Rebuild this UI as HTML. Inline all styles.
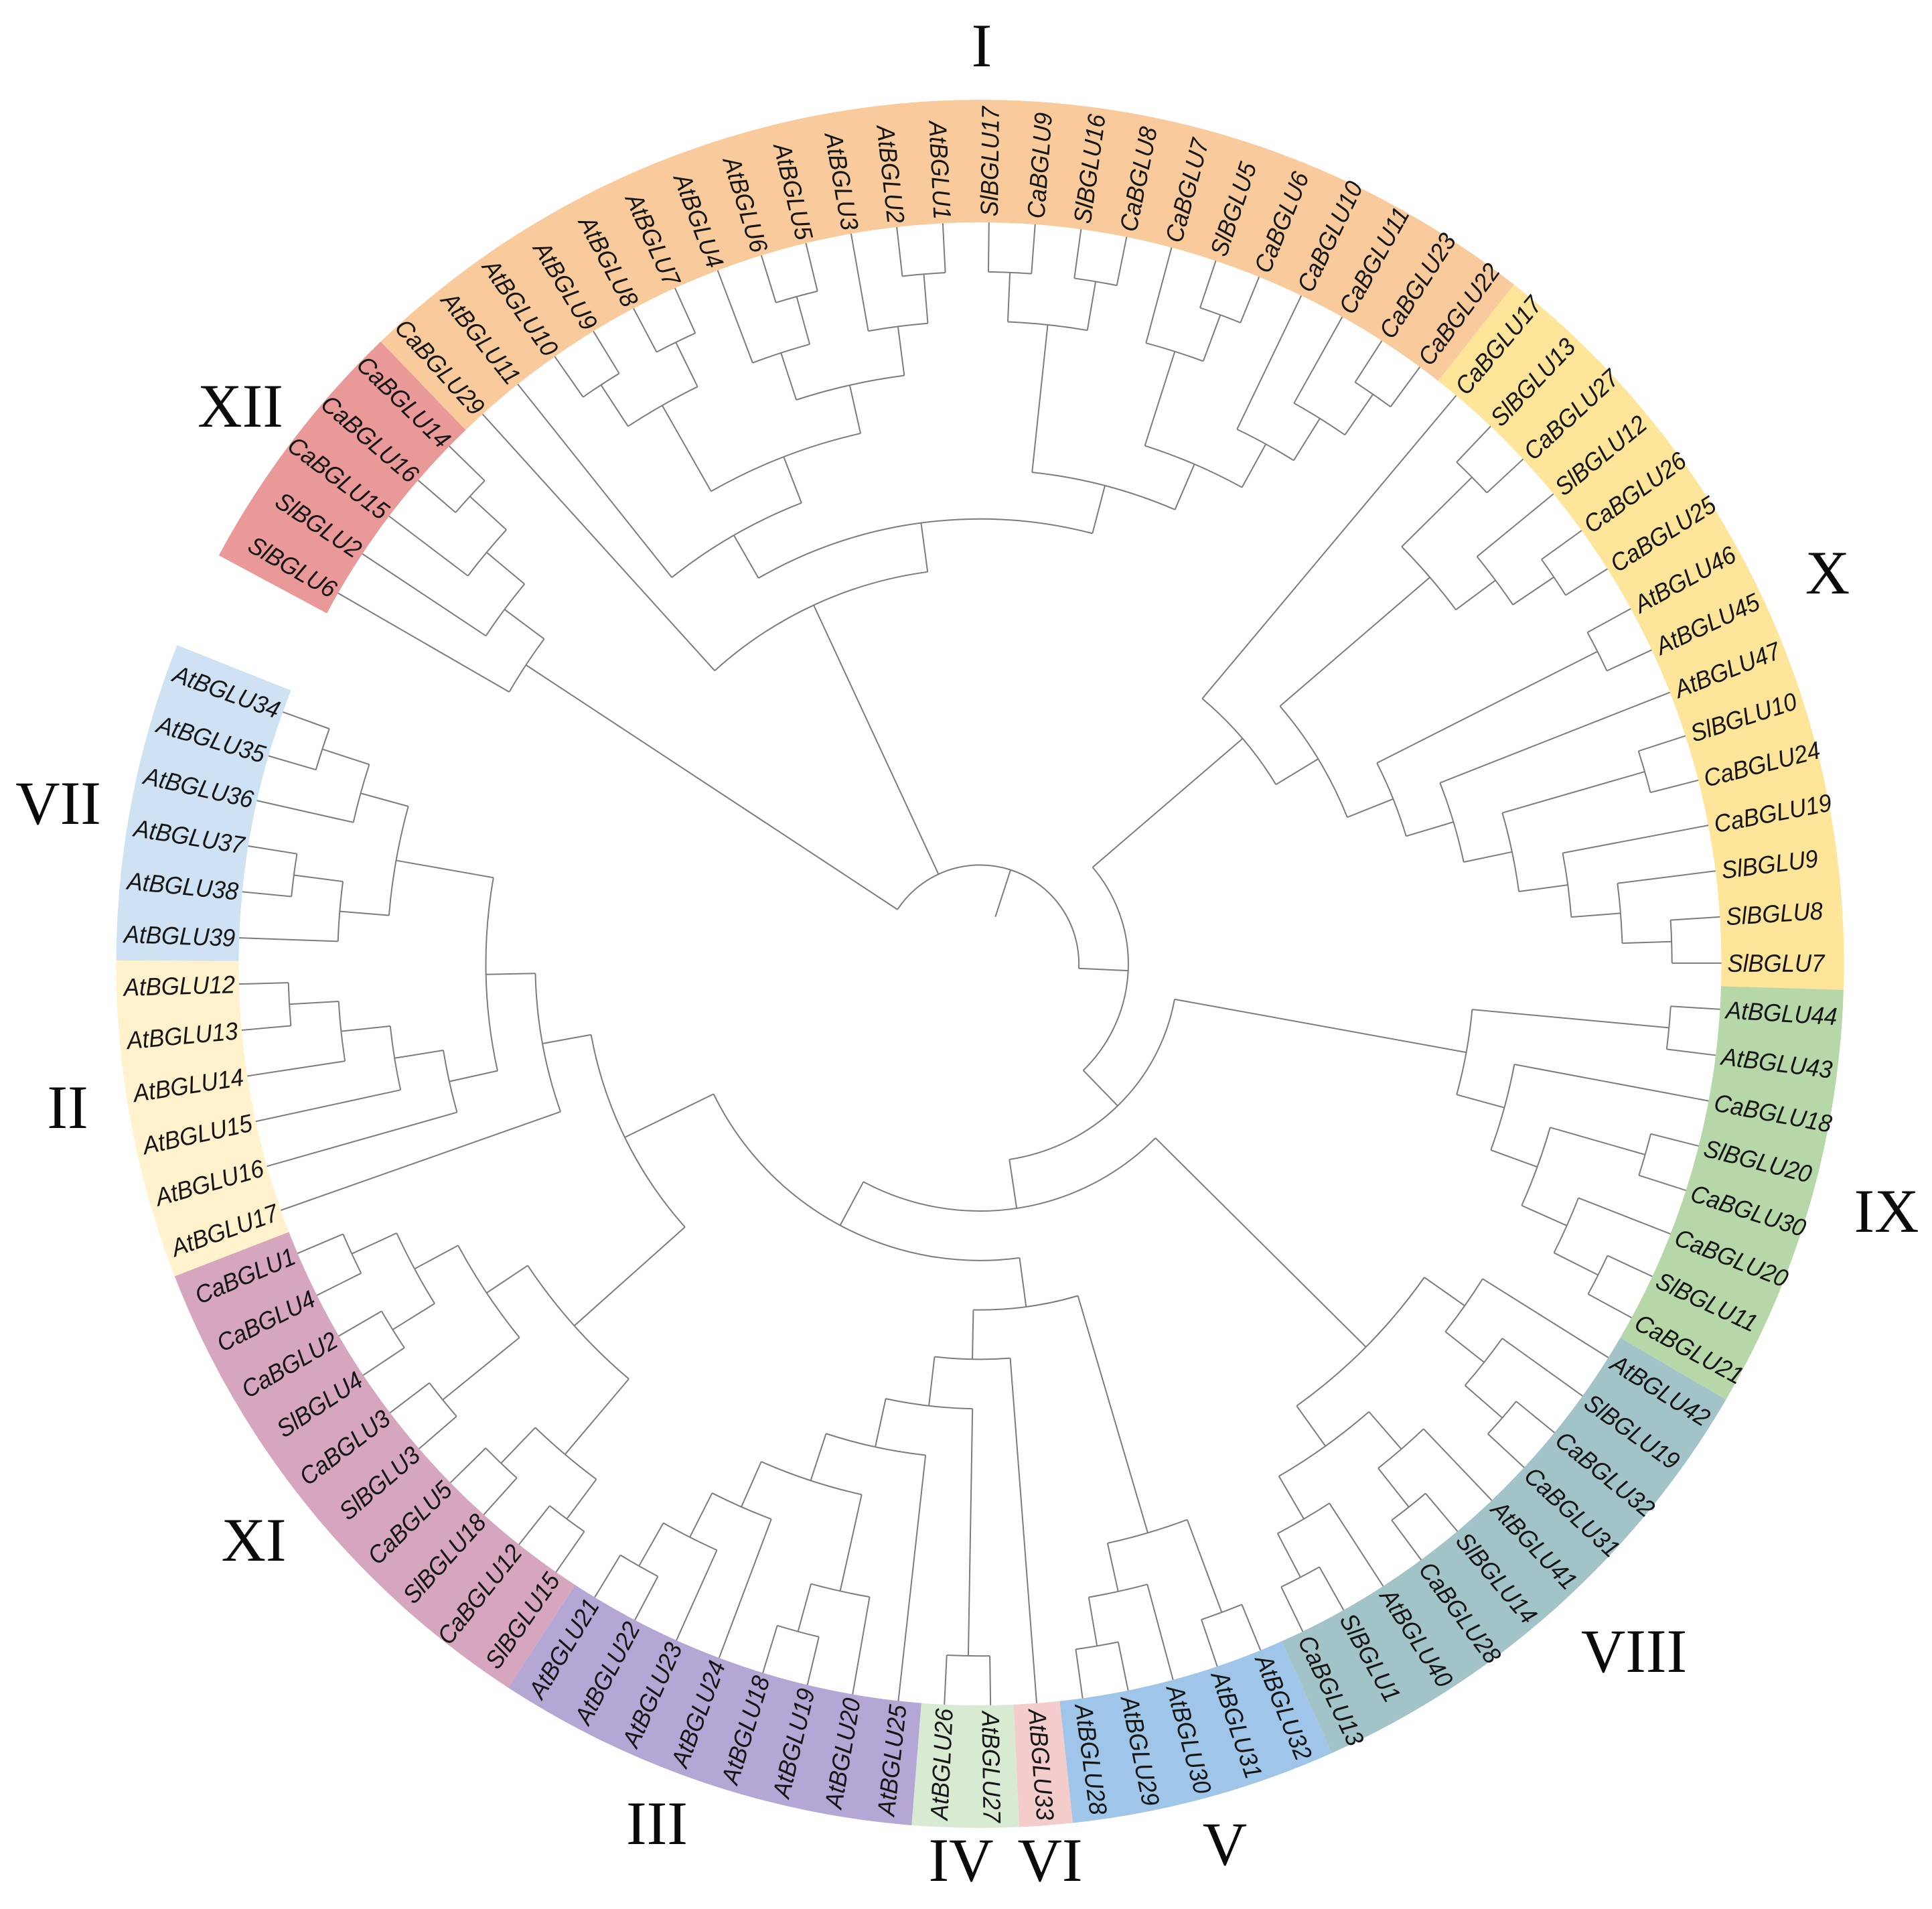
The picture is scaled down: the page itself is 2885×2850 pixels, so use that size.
<!DOCTYPE html>
<html lang="en">
<head>
<meta charset="utf-8">
<title>Circular BGLU cladogram</title>
<style>
html,body{margin:0;padding:0;background:#fff;}
svg{display:block;}
.leaf-label{font-family:"Liberation Sans",sans-serif;font-style:italic;font-size:37px;fill:#151515;}
.clade-title{font-family:"Liberation Serif",serif;font-size:92px;fill:#0a0a0a;text-anchor:middle;}
.branch{fill:none;stroke:#7c7c7c;stroke-width:2;}
</style>
</head>
<body>
<svg id="chart" xmlns="http://www.w3.org/2000/svg" width="2885" height="2850" viewBox="0 0 2885 2850">
  <rect width="2885" height="2850" fill="#ffffff"/>
  <g id="ring"></g>
  <g id="tree"></g>
  <g id="labels"></g>
  <g>
    <text class="clade-title" x="1466" y="99">I</text>
    <text class="clade-title" x="101" y="1684">II</text>
    <text class="clade-title" x="981" y="2753">III</text>
    <text class="clade-title" x="1435" y="2808">IV</text>
    <text class="clade-title" x="1829" y="2784">V</text>
    <text class="clade-title" x="1568" y="2808">VI</text>
    <text class="clade-title" x="87" y="1230">VII</text>
    <text class="clade-title" x="2440" y="2496">VIII</text>
    <text class="clade-title" x="2817" y="1839">IX</text>
    <text class="clade-title" x="2729" y="886">X</text>
    <text class="clade-title" x="379" y="2330">XI</text>
    <text class="clade-title" x="359" y="637">XII</text>
  </g>
</svg>
<script>
// Leaves in clockwise order, starting from the first slot of clade XII.
const leafNames = [
  "SlBGLU6","SlBGLU2","CaBGLU15","CaBGLU16","CaBGLU14",
  "CaBGLU29","AtBGLU11","AtBGLU10","AtBGLU9","AtBGLU8","AtBGLU7","AtBGLU4","AtBGLU6","AtBGLU5","AtBGLU3","AtBGLU2","AtBGLU1","SlBGLU17","CaBGLU9","SlBGLU16","CaBGLU8","CaBGLU7","SlBGLU5","CaBGLU6","CaBGLU10","CaBGLU11","CaBGLU23","CaBGLU22",
  "CaBGLU17","SlBGLU13","CaBGLU27","SlBGLU12","CaBGLU26","CaBGLU25","AtBGLU46","AtBGLU45","AtBGLU47","SlBGLU10","CaBGLU24","CaBGLU19","SlBGLU9","SlBGLU8","SlBGLU7",
  "AtBGLU44","AtBGLU43","CaBGLU18","SlBGLU20","CaBGLU30","CaBGLU20","SlBGLU11","CaBGLU21",
  "AtBGLU42","SlBGLU19","CaBGLU32","CaBGLU31","AtBGLU41","SlBGLU14","CaBGLU28","AtBGLU40","SlBGLU1","CaBGLU13",
  "AtBGLU32","AtBGLU31","AtBGLU30","AtBGLU29","AtBGLU28",
  "AtBGLU33",
  "AtBGLU27","AtBGLU26",
  "AtBGLU25","AtBGLU20","AtBGLU19","AtBGLU18","AtBGLU24","AtBGLU23","AtBGLU22","AtBGLU21",
  "SlBGLU15","CaBGLU12","SlBGLU18","CaBGLU5","SlBGLU3","CaBGLU3","SlBGLU4","CaBGLU2","CaBGLU4","CaBGLU1",
  "AtBGLU17","AtBGLU16","AtBGLU15","AtBGLU14","AtBGLU13","AtBGLU12",
  "AtBGLU39","AtBGLU38","AtBGLU37","AtBGLU36","AtBGLU35","AtBGLU34"
];
const cladeNames = ["XII","I","X","IX","VIII","V","VI","IV","III","XI","II","VII"];
const cladeSizes = [5,23,15,8,10,5,1,2,8,10,6,6];
const cladePalette = ["#ea9999","#f9cb9c","#ffe599","#b6d7a8","#a2c4c9","#9fc5e8","#f4cccc","#d9ead3","#b4a7d6","#d5a6bd","#fff2cc","#cfe2f3"];

// Internal nodes: children are leaf names, or "#k" for internal node k.
const nodeChildren = [
  ["CaBGLU16","CaBGLU14"],["CaBGLU15","#0"],["SlBGLU2","#1"],["SlBGLU6","#2"],
  ["AtBGLU10","AtBGLU9"],["AtBGLU8","AtBGLU7"],["#4","#5"],["AtBGLU6","AtBGLU5"],["AtBGLU4","#7"],["AtBGLU2","AtBGLU1"],["AtBGLU3","#9"],["#8","#10"],["#6","#11"],["AtBGLU11","#12"],
  ["SlBGLU17","CaBGLU9"],["SlBGLU16","CaBGLU8"],["#14","#15"],["SlBGLU5","CaBGLU6"],["CaBGLU7","#17"],["CaBGLU23","CaBGLU22"],["CaBGLU11","#19"],["CaBGLU10","#20"],["#18","#21"],["#16","#22"],["#13","#23"],["CaBGLU29","#24"],
  ["SlBGLU13","CaBGLU27"],["CaBGLU26","CaBGLU25"],["SlBGLU12","#27"],["#26","#28"],["AtBGLU46","AtBGLU45"],["SlBGLU10","CaBGLU24"],["SlBGLU8","SlBGLU7"],["SlBGLU9","#32"],["CaBGLU19","#33"],["#31","#34"],["AtBGLU47","#35"],["#30","#36"],["#29","#37"],["CaBGLU17","#38"],
  ["AtBGLU44","AtBGLU43"],["SlBGLU20","CaBGLU30"],["SlBGLU11","CaBGLU21"],["CaBGLU20","#42"],["#41","#43"],["CaBGLU18","#44"],["#40","#45"],
  ["CaBGLU32","CaBGLU31"],["SlBGLU19","#47"],["AtBGLU42","#48"],["SlBGLU14","CaBGLU28"],["AtBGLU41","#50"],["SlBGLU1","CaBGLU13"],["AtBGLU40","#52"],["#51","#53"],["#49","#54"],
  ["AtBGLU32","AtBGLU31"],["AtBGLU29","AtBGLU28"],["AtBGLU30","#57"],["#56","#58"],
  ["AtBGLU27","AtBGLU26"],["AtBGLU22","AtBGLU21"],["AtBGLU23","#61"],["AtBGLU24","#62"],["AtBGLU19","AtBGLU18"],["AtBGLU20","#64"],["#63","#65"],["AtBGLU25","#66"],["#60","#67"],["AtBGLU33","#68"],["#59","#69"],
  ["AtBGLU12","AtBGLU13"],["AtBGLU14","#71"],["AtBGLU15","#72"],["AtBGLU16","#73"],["AtBGLU34","AtBGLU35"],["AtBGLU36","#75"],["AtBGLU37","AtBGLU38"],["AtBGLU39","#77"],["#76","#78"],["#74","#79"],["AtBGLU17","#80"],
  ["CaBGLU1","CaBGLU4"],["CaBGLU2","SlBGLU4"],["#82","#83"],["CaBGLU3","SlBGLU3"],["#84","#85"],["CaBGLU5","SlBGLU18"],["CaBGLU12","SlBGLU15"],["#87","#88"],["#86","#89"],
  ["#81","#90"],["#70","#91"],["#55","#92"],["#46","#93"],["#39","#94"],["#3","#25","#95"]
];
// Height of each internal node above the tips (cladogram levels).
const nodeLevels = [
  1,2,3,4,
  1,1,2,1,2,1,2,3,4,5,
  1,1,2,1,2,1,2,3,4,5,6,7,
  1,1,2,3,1,1,1,2,3,4,5,6,7,8,
  1,1,1,2,3,4,5,
  1,2,3,1,2,1,2,3,4,
  1,1,2,3,
  1,1,2,3,1,2,4,5,6,7,8,
  1,2,3,4,1,2,1,2,3,5,6,
  1,1,2,1,3,1,1,2,4,
  7,9,10,11,12,13
];
const rootStubLevel = 14;

const NS = "http://www.w3.org/2000/svg";
const CX = 1463.5, CY = 1439;
const TIP_R = 1107, OUTER_R = 1290, LEVEL_STEP = 73.8;
const FIRST_ANGLE = 300, SLOT = 3.57;

function levelToRadius(level){ return TIP_R - LEVEL_STEP * level; }
function slotToAngle(slot){ return FIRST_ANGLE + SLOT * slot; }
function polar(angle, r){
  const t = angle * Math.PI / 180;
  return [CX + r * Math.sin(t), CY - r * Math.cos(t)];
}
function fmt(v){ return v.toFixed(2); }
function arcPath(a0, a1, r){
  const p = polar(a0, r), q = polar(a1, r);
  const big = (a1 - a0) > 180 ? 1 : 0;
  return "M" + fmt(p[0]) + " " + fmt(p[1]) + "A" + fmt(r) + " " + fmt(r) + " 0 " + big + " 1 " + fmt(q[0]) + " " + fmt(q[1]);
}
function radialPath(a, r0, r1){
  const p = polar(a, r0), q = polar(a, r1);
  return "M" + fmt(p[0]) + " " + fmt(p[1]) + "L" + fmt(q[0]) + " " + fmt(q[1]);
}

// Coloured ring sectors
const ringGroup = document.getElementById("ring");
let slotCursor = 0;
cladeSizes.forEach(function(size, i){
  const a0 = slotToAngle(slotCursor - 0.5), a1 = slotToAngle(slotCursor + size - 0.5);
  const o0 = polar(a0, OUTER_R), o1 = polar(a1, OUTER_R), n1 = polar(a1, TIP_R), n0 = polar(a0, TIP_R);
  const big = (a1 - a0) > 180 ? 1 : 0;
  const sector = document.createElementNS(NS, "path");
  sector.setAttribute("d",
    "M" + fmt(o0[0]) + " " + fmt(o0[1]) +
    "A" + OUTER_R + " " + OUTER_R + " 0 " + big + " 1 " + fmt(o1[0]) + " " + fmt(o1[1]) +
    "L" + fmt(n1[0]) + " " + fmt(n1[1]) +
    "A" + TIP_R + " " + TIP_R + " 0 " + big + " 0 " + fmt(n0[0]) + " " + fmt(n0[1]) + "Z");
  sector.setAttribute("fill", cladePalette[i]);
  
  
  ringGroup.appendChild(sector);
  slotCursor += size;
});

// Tree branches
const treeGroup = document.getElementById("tree");
const nodeSlots = [];
function childInfo(ref){
  if (ref.charAt(0) === "#") {
    const k = parseInt(ref.slice(1), 10);
    return { slot: nodeSlots[k], radius: levelToRadius(nodeLevels[k]) };
  }
  return { slot: leafNames.indexOf(ref), radius: TIP_R };
}
function addBranch(d, name){
  const branch = document.createElementNS(NS, "path");
  branch.setAttribute("d", d);
  branch.setAttribute("class", "branch");
  
  
  treeGroup.appendChild(branch);
}
nodeChildren.forEach(function(children, k){
  const infos = children.map(childInfo);
  const slots = infos.map(function(c){ return c.slot; });
  const lo = Math.min.apply(null, slots), hi = Math.max.apply(null, slots);
  nodeSlots[k] = (lo + hi) / 2;
  const r = levelToRadius(nodeLevels[k]);
  addBranch(arcPath(slotToAngle(lo), slotToAngle(hi), r), "node-arc-" + k);
  infos.forEach(function(c, j){
    addBranch(radialPath(slotToAngle(c.slot), r, c.radius), "node-stem-" + k + "-" + j);
  });
});
const rootIndex = nodeChildren.length - 1;
addBranch(radialPath(slotToAngle(nodeSlots[rootIndex]), levelToRadius(nodeLevels[rootIndex]), levelToRadius(rootStubLevel)), "root-stub");

// Leaf labels
const labelGroup = document.getElementById("labels");
const LABEL_R_START = TIP_R + 9;
const LABEL_R_END = TIP_R + 6;
leafNames.forEach(function(name, i){
  const a = slotToAngle(i) % 360;
  const rightSide = a < 180;
  const p = polar(a, rightSide ? LABEL_R_START : LABEL_R_END);
  const rot = rightSide ? a - 90 : a + 90;
  const label = document.createElementNS(NS, "text");
  label.setAttribute("class", "leaf-label");
  label.setAttribute("transform", "translate(" + fmt(p[0]) + " " + fmt(p[1]) + ") rotate(" + fmt(rot) + ") scale(0.94 1)");
  label.setAttribute("text-anchor", rightSide ? "start" : "end");
  label.setAttribute("dy", "0.35em");
  label.textContent = name;
  
  
  labelGroup.appendChild(label);
});
</script>
</body>
</html>
